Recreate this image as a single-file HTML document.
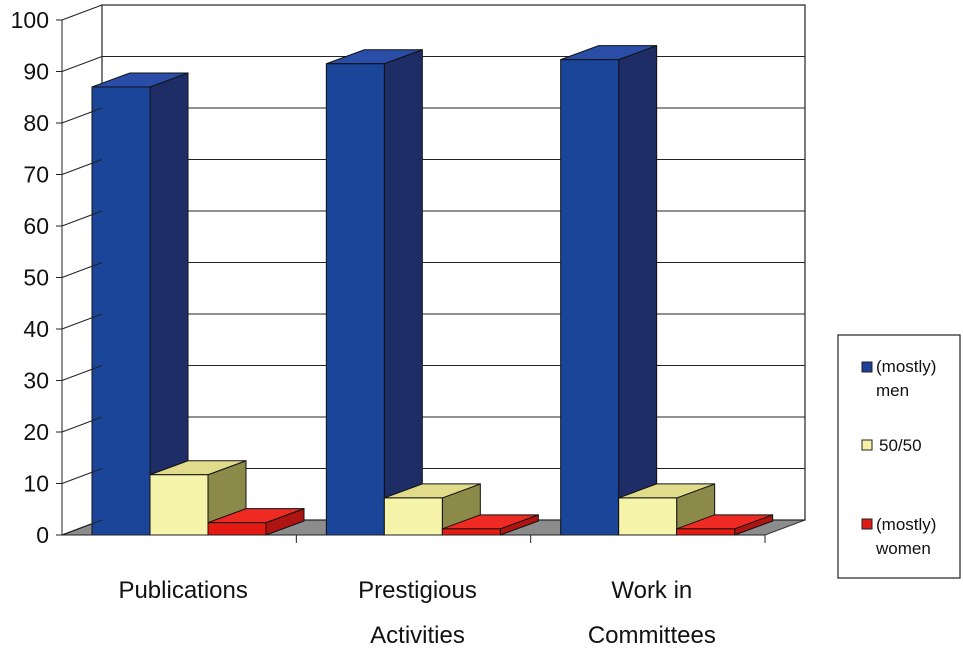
<!DOCTYPE html>
<html><head><meta charset="utf-8"><style>
body{margin:0;background:#fff;font-family:"Liberation Sans",Arial,sans-serif}
svg text{font-family:"Liberation Sans",Arial,sans-serif;fill:#111}
</style></head><body>
<svg id="chart" width="963" height="648" xmlns="http://www.w3.org/2000/svg">
<g id="walls"></g>
<g id="bars"></g>
<g id="axis"></g>
<g id="xlabels"></g>
<g>
<rect x="838" y="335" width="122" height="243" fill="#fff" stroke="#222" stroke-width="1.2"/>
<g><rect x="862" y="362" width="10" height="10" fill="#1c3f9a" stroke="#222"/><text x="876" y="372" font-size="17">(mostly)</text><text x="876" y="396" font-size="17">men</text></g>
<g><rect x="862" y="440" width="10" height="10" fill="#f5f2a8" stroke="#222"/><text x="879" y="451" font-size="17">50/50</text></g>
<g><rect x="862" y="519" width="10" height="10" fill="#e01a14" stroke="#222"/><text x="876" y="530" font-size="17">(mostly)</text><text x="876" y="554" font-size="17">women</text></g>
</g>
</svg>
<script>
const categories=[["Publications"],["Prestigious","Activities"],["Work in","Committees"]];
const men=[87,91.5,92.3];
const even=[11.7,7.2,7.2];
const women=[2.4,1.2,1.2];
const ticks=[0,10,20,30,40,50,60,70,80,90,100];
const NS="http://www.w3.org/2000/svg";
const x0=62,x1=765,y0=535,DX=40,DY=-15,S=5.15;
const y=v=>y0-v*S;
function mk(p,t,a){const e=document.createElementNS(NS,t);for(const k in a)e.setAttribute(k,a[k]);p.appendChild(e);return e;}
const W=document.getElementById('walls'),B=document.getElementById('bars'),A=document.getElementById('axis'),X=document.getElementById('xlabels');
// floor
let fl=mk(W,'polygon',{points:`${x0},${y0} ${x1},${y0} ${x1+DX},${y0+DY} ${x0+DX},${y0+DY}`,fill:'#8c8c8c',stroke:'#333','stroke-width':1});

let bw=mk(W,'rect',{x:x0+DX,y:y(100)+DY,width:x1-x0,height:100*S,fill:'#fff',stroke:'#222','stroke-width':1.2});

mk(W,'line',{x1:x0,y1:y0,x2:x0+DX,y2:y0+DY,stroke:'#222'});
ticks.forEach(t=>{
 if(t>0){let g=mk(W,'line',{x1:x0+DX,y1:y(t)+DY,x2:x1+DX,y2:y(t)+DY,stroke:'#222','stroke-width':1});
 }
 mk(A,'line',{x1:x0,y1:y(t),x2:x0+DX,y2:y(t)+DY,stroke:'#222'});
 mk(A,'line',{x1:x0-6,y1:y(t),x2:x0,y2:y(t),stroke:'#222'});
 let tx=mk(A,'text',{x:x0-13,y:y(t)+8,'font-size':23,'text-anchor':'end'});tx.textContent=t;
 
});
mk(A,'line',{x1:x0,y1:y(0),x2:x0,y2:y(100),stroke:'#222'});
mk(A,'line',{x1:x0,y1:y0,x2:x1,y2:y0,stroke:'#222'});
const cw=(x1-x0)/3,bwid=58,dx=38,dy=-14;
const series=[[men,'#1a4599','#1f2d66','#2a4ea8','men'],[even,'#f6f3ab','#8c8a48','#e0dc8c','even'],[women,'#e51b13','#b01410','#ee2a22','women']];
for(let i=0;i<3;i++){
 const cx=x0+i*cw;
 let tk=mk(A,'line',{x1:cx+cw,y1:y0,x2:cx+cw,y2:y0+8,stroke:'#222'});
 series.forEach((s,j)=>{
  const v=s[0][i],l=cx+30+j*bwid,r=l+bwid,t=y(v);
  const g=mk(B,'g',{});
  
  
  mk(g,'polygon',{points:`${r},${y0} ${r+dx},${y0+dy} ${r+dx},${t+dy} ${r},${t}`,fill:s[2],stroke:'#111','stroke-width':1});
  mk(g,'polygon',{points:`${l},${t} ${l+dx},${t+dy} ${r+dx},${t+dy} ${r},${t}`,fill:s[3],stroke:'#111','stroke-width':1});
  mk(g,'rect',{x:l,y:t,width:bwid,height:y0-t,fill:s[1],stroke:'#111','stroke-width':1});
 });
 categories[i].forEach((ln,k)=>{
  let tx=mk(X,'text',{x:cx+cw/2+4,y:598+k*45,'font-size':24,'text-anchor':'middle'});tx.textContent=ln;
  
 });
}
</script>
</body></html>
